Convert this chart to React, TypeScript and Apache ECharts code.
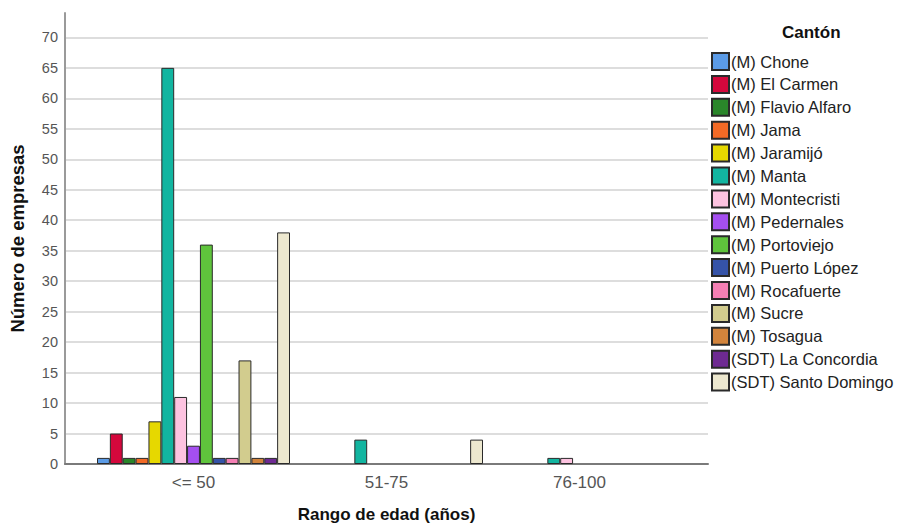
import React, { useEffect, useRef } from "react";
import * as echarts from "echarts";

const categories = ["<= 50", "51-75", "76-100"];
const seriesNames = [
  "(M) Chone",
  "(M) El Carmen",
  "(M) Flavio Alfaro",
  "(M) Jama",
  "(M) Jaramijó",
  "(M) Manta",
  "(M) Montecristi",
  "(M) Pedernales",
  "(M) Portoviejo",
  "(M) Puerto López",
  "(M) Rocafuerte",
  "(M) Sucre",
  "(M) Tosagua",
  "(SDT) La Concordia",
  "(SDT) Santo Domingo",
];
// values per category (null = no bar)
const chone = [1, null, null];
const elCarmen = [5, null, null];
const flavioAlfaro = [1, null, null];
const jama = [1, null, null];
const jaramijo = [7, null, null];
const manta = [65, 4, 1];
const montecristi = [11, null, 1];
const pedernales = [3, null, null];
const portoviejo = [36, null, null];
const puertoLopez = [1, null, null];
const rocafuerte = [1, null, null];
const sucre = [17, null, null];
const tosagua = [1, null, null];
const laConcordia = [1, null, null];
const santoDomingo = [38, 4, null];
const seriesValues = [
  chone, elCarmen, flavioAlfaro, jama, jaramijo, manta, montecristi, pedernales,
  portoviejo, puertoLopez, rocafuerte, sucre, tosagua, laConcordia, santoDomingo,
];
const colors = [
  "#5b9be6", "#d4083c", "#2a862a", "#f26a26", "#e6d800", "#12b5a0", "#fdc3e0",
  "#a54ff0", "#5fc43c", "#3553a8", "#f47fb4", "#d2cc8e", "#d2843c", "#6e2a92", "#ede8cf",
];
const yMax = 74;
const yInterval = 5;

export default function App() {
  const ref = useRef<HTMLDivElement>(null);
  useEffect(() => {
    document.body.style.margin = "0";
    const chart = echarts.init(ref.current!, undefined, { renderer: "svg" });
    const font = "'Liberation Sans', Arial, sans-serif";
    chart.setOption({
      animation: false,
      backgroundColor: "#ffffff",
      title: {
        text: "Cantón",
        left: 782,
        top: 24,
        padding: 0,
        textStyle: { fontFamily: font, fontSize: 17, fontWeight: "bold", color: "#111" },
      },
      legend: {
        orient: "vertical",
        left: 711,
        top: 52,
        padding: 0,
        itemWidth: 17,
        itemHeight: 17,
        itemGap: 3.9,
        icon: "rect",
        data: seriesNames,
        textStyle: { fontFamily: font, fontSize: 16.5, color: "#222", padding: [0, 0, 0, -3] },
      },
      grid: [
        { left: 65, right: 198, top: 13, bottom: 63, outerBoundsMode: "none" },
        { left: 97, right: 230, top: 13, bottom: 63, outerBoundsMode: "none" },
      ],
      xAxis: [
        {
          gridIndex: 0,
          type: "category",
          data: ["", "", ""],
          axisLine: { show: true, lineStyle: { color: "#7a7a7a", width: 2 } },
          axisTick: { show: false },
          axisLabel: { show: false },
          name: "Rango de edad (años)",
          nameLocation: "middle",
          nameGap: 42,
          nameTextStyle: { fontFamily: font, fontSize: 17, fontWeight: "bold", color: "#111" },
        },
        {
          gridIndex: 1,
          type: "category",
          data: categories,
          axisLine: { show: false },
          axisTick: { show: false },
          axisLabel: { fontFamily: font, fontSize: 17, color: "#555", margin: 10 },
        },
      ],
      yAxis: [
        {
          gridIndex: 0,
          type: "value",
          min: 0,
          max: yMax,
          interval: yInterval,
          axisLine: { show: true, lineStyle: { color: "#9a9a9a", width: 2 } },
          axisTick: { show: false },
          axisLabel: { fontFamily: font, fontSize: 14.5, color: "#555", margin: 7, showMaxLabel: false },
          splitLine: { show: true, showMaxLine: false, lineStyle: { color: "#d2d2d2", width: 1.5 } },
          name: "Número de empresas",
          nameLocation: "middle",
          nameRotate: 90,
          nameGap: 38,
          nameTextStyle: { fontFamily: font, fontSize: 18.5, fontWeight: "bold", color: "#111" },
        },
        {
          gridIndex: 1,
          type: "value",
          min: 0,
          max: yMax,
          interval: yInterval,
          show: false,
          splitLine: { show: false },
        },
      ],
      series: seriesNames.map((name, i) => ({
        name,
        type: "bar",
        xAxisIndex: 1,
        yAxisIndex: 1,
        data: seriesValues[i],
        barGap: "0%",
        barCategoryGap: "0%",
        itemStyle: { color: colors[i], borderColor: "#2a2a2a", borderWidth: 1 },
      })),
    });
    return () => chart.dispose();
  }, []);
  return <div ref={ref} style={{ width: 906, height: 527 }} />;
}
